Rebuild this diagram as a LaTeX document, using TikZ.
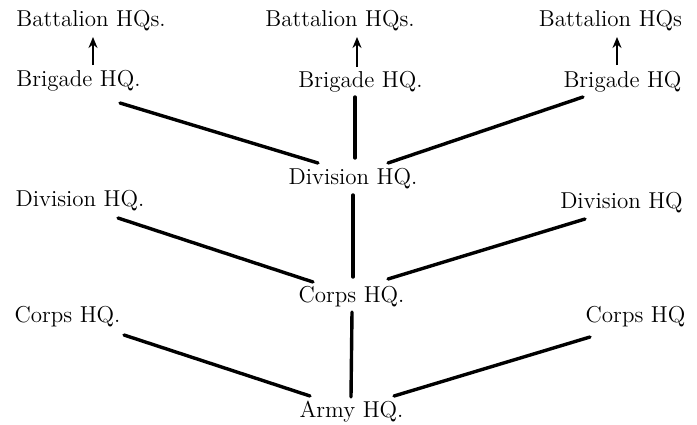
\documentclass[tikz,border=0pt]{standalone}
\usepackage{tikz}
\usetikzlibrary{arrows.meta, positioning, calc}

\tikzset{
  % Headquarters labels
  hq/.style={
    anchor=base, inner sep=0pt, font=\fontsize{11.5}{14}\selectfont,
    text=black,
  },
  % Lines of command
  link/.style={line width=1.7pt, line cap=round, black},
  % Arrows up to battalions
  myarrow/.style={-{Stealth[length=5.5pt, width=4.5pt]}, line width=1pt, black},
}

\begin{document}
\begin{tikzpicture}[x=0.5pt, y=-0.5pt]
  \useasboundingbox (0,0) rectangle (697,424);

  % Battalion row
  \node[hq] (bat1) at (91,26)    {Battalion HQs.};
  \node[hq] (bat2) at (340,26)   {Battalion HQs.};
  \node[hq] (bat3) at (610.5,26) {Battalion HQs};

  % Brigade row
  \node[hq] (bri1) at (78.5,86)  {Brigade HQ.};
  \node[hq] (bri2) at (360.5,87) {Brigade HQ.};
  \node[hq] (bri3) at (622.5,87) {Brigade HQ};

  % Division row
  \node[hq] (div1) at (80,206)    {Division HQ.};
  \node[hq] (div2) at (353,184)   {Division HQ.};
  \node[hq] (div3) at (621.5,208) {Division HQ};

  % Corps row
  \node[hq] (cor1) at (67.5,322)  {Corps HQ.};
  \node[hq] (cor2) at (351.5,302) {Corps HQ.};
  \node[hq] (cor3) at (635.5,322) {Corps HQ};

  % Army
  \node[hq] (army) at (351.5,417) {Army HQ.};

  % Arrows
  \draw[myarrow] ([shift={(14.5,-21)}]bri1.base) -- ([shift={(2,11)}]bat1.base);
  \draw[myarrow] ([shift={(-3.5,-20)}]bri2.base) -- ([shift={(17,11)}]bat2.base);
  \draw[myarrow] ([shift={(-5.5,-22)}]bri3.base) -- ([shift={(6.5,11)}]bat3.base);

  % Brigades to division
  \draw[link] ([shift={(41.5,17)}]bri1.base) -- ([shift={(-35,-21)}]div2.base);
  \draw[link] ([shift={(-5.5,10)}]bri2.base) -- ([shift={(2,-26)}]div2.base);
  \draw[link] ([shift={(-39.5,10)}]bri3.base) -- ([shift={(35,-21)}]div2.base);

  % Divisions to corps
  \draw[link] ([shift={(38,12)}]div1.base) -- ([shift={(-38.5,-20)}]cor2.base);
  \draw[link] ([shift={(0,11)}]div2.base) -- ([shift={(1.5,-25)}]cor2.base);
  \draw[link] ([shift={(-36.5,11)}]div3.base) -- ([shift={(36.5,-23)}]cor2.base);

  % Corps to army
  \draw[link] ([shift={(56.5,13)}]cor1.base) -- ([shift={(-41.5,-21)}]army.base);
  \draw[link] ([shift={(0.5,10)}]cor2.base) -- ([shift={(-0.5,-20)}]army.base);
  \draw[link] ([shift={(-45.5,15)}]cor3.base) -- ([shift={(42.5,-21)}]army.base);

\end{tikzpicture}
\end{document}
